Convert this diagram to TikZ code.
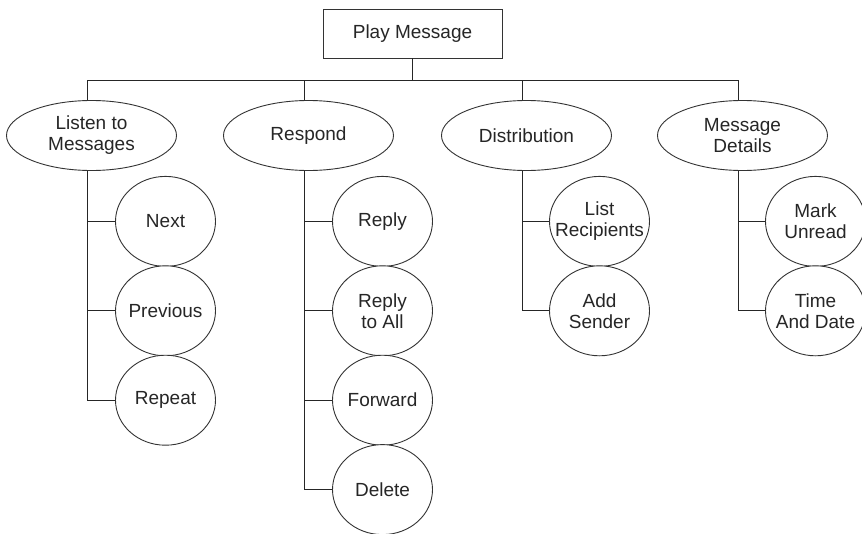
\documentclass[tikz,border=0pt]{standalone}
\usepackage{fontspec}
\setmainfont{Liberation Sans}
\usepackage{tikz}
\usetikzlibrary{positioning,shapes.geometric}
\tikzset{
  rootbox/.style={
    rectangle, draw=black!80, fill=white, text=black!85,
    minimum width=179pt, minimum height=49pt,
    font=\fontsize{19}{21}\selectfont, align=center, line width=0.9pt
  },
  topic/.style={
    ellipse, draw=black!80, fill=white, text=black!85,
    minimum width=170pt, minimum height=70pt, inner sep=2pt,
    font=\fontsize{19}{21}\selectfont, align=center, line width=0.9pt
  },
  leaf/.style={
    ellipse, draw=black!80, fill=white, text=black!85,
    minimum width=100pt, minimum height=90pt,
    inner xsep=-10pt, inner ysep=2pt,
    font=\fontsize{19}{21}\selectfont, align=center, line width=0.9pt
  },
  branch/.style={line width=0.9pt, color=black!85},
}
\begin{document}
\begin{tikzpicture}[x=1pt, y=1pt, node distance=-1.5pt]
  \useasboundingbox (0,0) rectangle (862,-533);

  % Root and bus coordinates
  \node[rootbox] (root) at (412.5,-33.5) {Play Message};
  \coordinate (lbus) at (87,-80);
  \coordinate (rbus) at (304,-80);
  \coordinate (dbus) at (522,-80);
  \coordinate (mbus) at (738,-80);

  % Topic row
  \node[topic] (listen)  at (91.5,-135.5)  {Listen to\\Messages};
  \node[topic] (respond) at (308.5,-135.5) {Respond};
  \node[topic] (distrib) at (526.5,-135.5) {Distribution};
  \node[topic] (details) at (742.5,-135.5) {Message\\Details};

  % Listen to Messages
  \node[leaf, below=5pt of listen, xshift=74pt] (next) {Next};
  \node[leaf, below=of next]     (previous) {Previous};
  \node[leaf, below=of previous] (repeat)   {Repeat};

  % Respond
  \node[leaf, below=5pt of respond, xshift=74pt] (reply) {Reply};
  \node[leaf, below=of reply]    (replyall) {Reply\\to All};
  \node[leaf, below=of replyall] (forward)  {Forward};
  \node[leaf, below=of forward]  (delete)   {Delete};

  % Distribution
  \node[leaf, below=5pt of distrib, xshift=73pt] (recips) {List\\Recipients};
  \node[leaf, below=of recips]   (sender)   {Add\\Sender};

  % Message Details
  \node[leaf, below=5pt of details, xshift=73pt] (unread) {Mark\\Unread};
  \node[leaf, below=of unread]   (timedate) {Time\\And Date};

  % Top bus
  \draw[branch] (root.south) -- (root.south |- lbus);
  \draw[branch] (lbus) -- (mbus);
  \draw[branch] (lbus) -- (lbus |- listen.north);
  \draw[branch] (rbus) -- (rbus |- respond.north);
  \draw[branch] (dbus) -- (dbus |- distrib.north);
  \draw[branch] (mbus) -- (mbus |- details.north);

  % Branches to leaves
  \draw[branch] (lbus |- listen.south) |- (repeat.west);
  \draw[branch] (lbus |- next.west) -- (next.west);
  \draw[branch] (lbus |- previous.west) -- (previous.west);

  \draw[branch] (rbus |- respond.south) |- (delete.west);
  \draw[branch] (rbus |- reply.west) -- (reply.west);
  \draw[branch] (rbus |- replyall.west) -- (replyall.west);
  \draw[branch] (rbus |- forward.west) -- (forward.west);

  \draw[branch] (dbus |- distrib.south) |- (sender.west);
  \draw[branch] (dbus |- recips.west) -- (recips.west);

  \draw[branch] (mbus |- details.south) |- (timedate.west);
  \draw[branch] (mbus |- unread.west) -- (unread.west);

\end{tikzpicture}
\end{document}
